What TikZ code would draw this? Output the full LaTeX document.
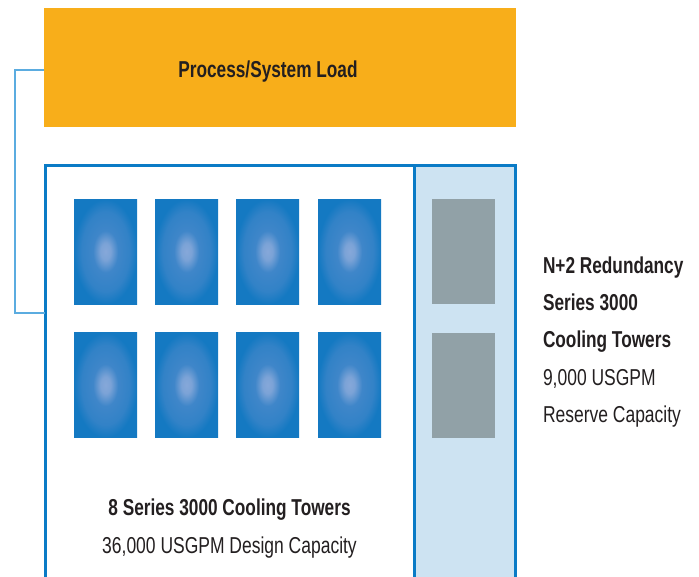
\documentclass[tikz,border=0pt]{standalone}
\usepackage{fontspec}
\setmainfont{Liberation Sans}[FakeStretch=0.76, BoldFeatures={FakeStretch=0.75}]
\definecolor{loadorange}{HTML}{F8AE1A}
\definecolor{boxblue}{HTML}{0A7BC6}
\definecolor{connblue}{HTML}{5BACE0}
\definecolor{reservefill}{HTML}{CDE3F2}
\definecolor{towerout}{HTML}{1479C2}
\definecolor{towermid}{HTML}{3F86C9}
\definecolor{towerin}{HTML}{86A8D9}
\definecolor{sparegray}{HTML}{91A1A7}
\definecolor{txt}{HTML}{231F20}
\pgfdeclareradialshading{towershade}{\pgfpoint{0bp}{0bp}}{color(0bp)=(towerin); color(4bp)=(towerin!85!towermid); color(10bp)=(towermid); color(19bp)=(towermid!70!towerout); color(25bp)=(towerout); color(50bp)=(towerout)}
\begin{document}
\begin{tikzpicture}[x=1pt,y=-1pt,
  every node/.style={inner sep=0pt, outer sep=0pt},
  tower/.style={rectangle, minimum width=63pt, minimum height=105pt, shading=towershade},
  spare/.style={rectangle, minimum width=63pt, minimum height=105pt, fill=sparegray},
  lbl/.style={text=txt, font=\fontsize{23}{23}\selectfont, anchor=base},
  blbl/.style={lbl, font=\fontsize{23}{23}\selectfont\bfseries},
  conn/.style={draw=connblue, line width=2pt},
  frame/.style={draw=boxblue, line width=3pt}]
\clip (0,0) rectangle (699,576);
\useasboundingbox (0,0) rectangle (699,576);
% load
\node[rectangle, fill=loadorange, minimum width=472pt, minimum height=119pt] (load) at (280,67.5) {};
\node[blbl] (loadtxt) at (268,77) {Process/System Load};
% boxes
\node[rectangle, frame, fill=white, minimum width=369pt, minimum height=440pt] (main) at (229.5,385.5) {};
\node[rectangle, frame, fill=reservefill, minimum width=101pt, minimum height=440pt] (reserve) at (464.5,385.5) {};
% connector
\coordinate (cbend) at (15,313);
\draw[conn] (load.west |- 0,70) -| (cbend) -- (main.west |- cbend);
% towers
\node[tower] (t1) at (105.5,251.5) {};
\node[tower] (t2) at (186.5,251.5) {};
\node[tower] (t3) at (267.5,251.5) {};
\node[tower] (t4) at (349.5,251.5) {};
\node[tower] (t5) at (105.5,385) {};
\node[tower] (t6) at (186.5,385) {};
\node[tower] (t7) at (267.5,385) {};
\node[tower] (t8) at (349.5,385) {};
\node[spare] (s1) at (463.5,251.5) {};
\node[spare] (s2) at (463.5,385) {};
% texts
\node[blbl] (m1) at (229.5,515) {8 Series 3000 Cooling Towers};
\node[lbl] (m2) at (229.5,553) {36,000 USGPM Design Capacity};
\node[blbl, anchor=base west] (r1) at (543,273) {N+2 Redundancy};
\node[blbl, anchor=base west] (r2) at (543,310) {Series 3000};
\node[blbl, anchor=base west] (r3) at (543,347) {Cooling Towers};
\node[lbl, anchor=base west] (r4) at (543,385) {9,000 USGPM};
\node[lbl, anchor=base west] (r5) at (543,422) {Reserve Capacity};
\end{tikzpicture}
\end{document}
